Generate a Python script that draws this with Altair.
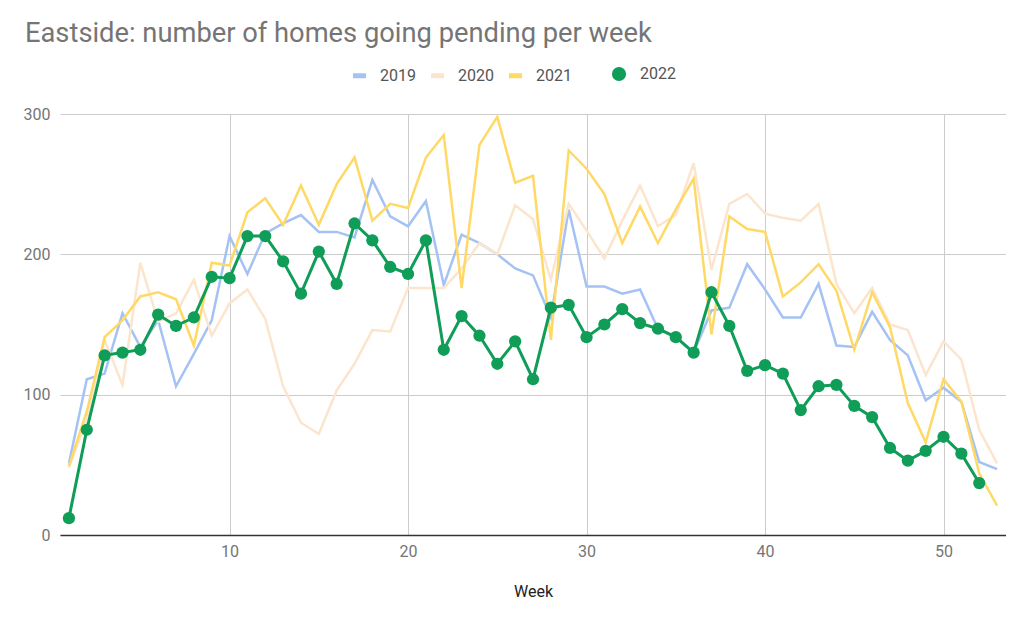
import altair as alt
import pandas as pd

weeks = list(range(1, 54))
years_old = ["2019", "2020", "2021"]
colors_old = ["#a4c2f4", "#fce5cd", "#ffd966"]
year_new = "2022"
GREEN = "#0f9d58"

v2019 = [51, 111, 115, 158, 134, 153, 106, 129, 153, 213,
         186, 215, 222, 228, 216, 216, 212, 253, 227, 220,
         238, 178, 214, 208, 200, 190, 185, 155, 232, 177,
         177, 172, 175, 147, 141, 130, 160, 162, 193, 175,
         155, 155, 179, 135, 134, 159, 139, 128, 96, 105,
         95, 52, 47]
v2020 = [48, 82, 139, 107, 194, 152, 158, 182, 142, 165,
         175, 154, 106, 80, 72, 103, 122, 146, 145, 176,
         176, 176, 190, 208, 200, 235, 225, 182, 236, 217,
         197, 224, 249, 220, 228, 265, 189, 236, 243, 229,
         226, 224, 236, 179, 158, 176, 150, 146, 114, 138,
         125, 75, 51]
v2021 = [49, 88, 141, 153, 170, 173, 168, 135, 194, 192,
         230, 240, 221, 249, 221, 250, 269, 224, 236, 233,
         269, 285, 176, 278, 298, 251, 256, 139, 274, 261,
         243, 208, 234, 208, 232, 254, 143, 227, 218, 216,
         170, 180, 193, 174, 132, 173, 148, 94, 66, 111,
         95, 44, 21]
v2022 = [12, 75, 128, 130, 132, 157, 149, 155, 184, 183,
         213, 213, 195, 172, 202, 179, 222, 210, 191, 186,
         210, 132, 156, 142, 122, 138, 111, 162, 164, 141,
         150, 161, 151, 147, 141, 130, 173, 149, 117, 121,
         115, 89, 106, 107, 92, 84, 62, 53, 60, 70,
         58, 37]

rows = []
for yr, vals in zip(years_old + [year_new], [v2019, v2020, v2021, v2022]):
    for w, v in zip(weeks, vals):
        rows.append({"week": w, "homes": v, "year": yr})
df = pd.DataFrame(rows)
df_old = df[df["year"] != year_new]
df_new = df[df["year"] == year_new]

FONT = "Roboto"

x = alt.X(
    "week:Q",
    scale=alt.Scale(domain=[0.5, 53.5], nice=False, zero=False),
    axis=alt.Axis(
        title="Week", values=[10, 20, 30, 40, 50], grid=True, gridColor="#cccccc",
        ticks=False, domain=True, domainColor="#333333", domainWidth=1.5,
        labelColor="#757575", labelFontSize=16, labelFont=FONT, labelPadding=8,
        titleFont=FONT, titleFontSize=16, titleColor="#222222",
        titleFontWeight="normal", titlePadding=24,
    ),
)
y = alt.Y(
    "homes:Q",
    scale=alt.Scale(domain=[0, 300], nice=False),
    axis=alt.Axis(
        title=None, values=[0, 100, 200, 300], grid=True, gridColor="#cccccc",
        ticks=False, domain=False, labelColor="#757575", labelFontSize=16,
        labelFont=FONT, labelPadding=10,
    ),
)

legend_old = alt.Legend(
    title=None, orient="none", legendX=290, legendY=-48, direction="horizontal",
    symbolType="stroke", symbolSize=170, symbolStrokeWidth=5,
    labelFont=FONT, labelFontSize=16, labelColor="#555555", labelOffset=11,
    columnPadding=4, padding=0,
)
legend_new = alt.Legend(
    title=None, orient="none", legendX=551, legendY=-48, direction="horizontal",
    symbolType="circle", symbolSize=200, symbolStrokeWidth=0,
    labelFont=FONT, labelFontSize=16, labelColor="#555555", labelOffset=13,
    padding=0,
)

old_lines = alt.Chart(df_old).mark_line(strokeWidth=2.5).encode(
    x=x, y=y,
    color=alt.Color("year:N", scale=alt.Scale(domain=years_old, range=colors_old),
                    legend=legend_old),
)
new_line = alt.Chart(df_new).mark_line(strokeWidth=3, color=GREEN).encode(x=x, y=y)
new_pts = alt.Chart(df_new).mark_circle(size=150, opacity=1).encode(
    x=x, y=y,
    fill=alt.Fill("year:N", scale=alt.Scale(domain=[year_new], range=[GREEN]),
                  legend=legend_new),
)

chart = alt.layer(old_lines, new_line, new_pts).properties(
    width=946, height=421,
    autosize="none",
    padding={"left": 52, "top": 106, "right": 0, "bottom": 70},
    title=alt.TitleParams(
        text="Eastside: number of homes going pending per week",
        anchor="start", frame="group", dx=-35, offset=19,
        fontSize=27.3, font=FONT, color="#757575", fontWeight="normal",
    ),
).configure_view(stroke=None)

chart.save("out.html", embed_options={"renderer": "svg", "actions": False})
